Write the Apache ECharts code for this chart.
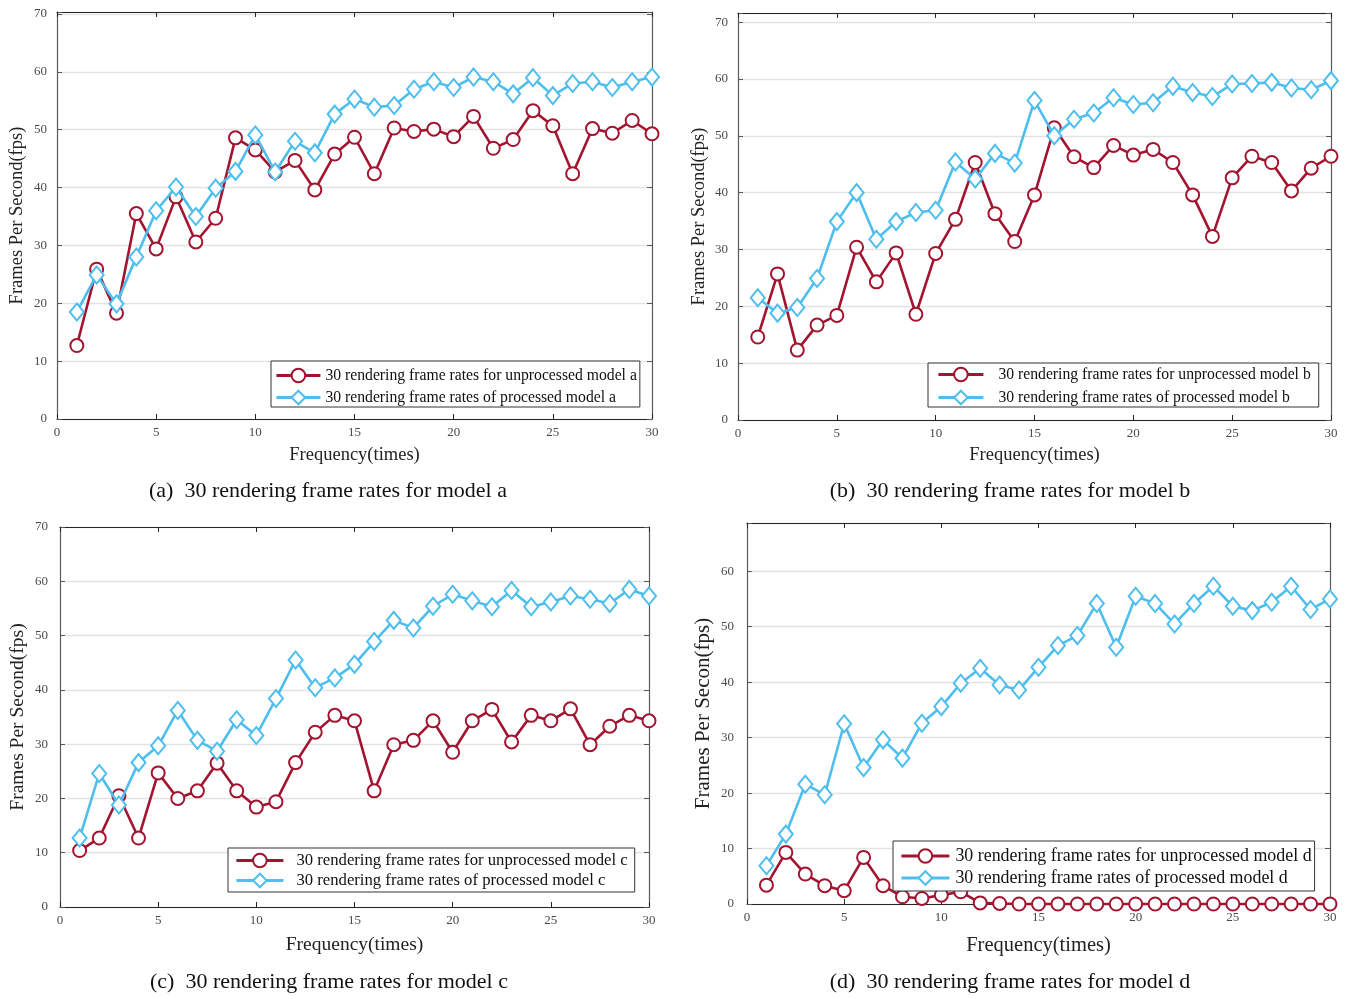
<!DOCTYPE html>
<html>
<head>
<meta charset="utf-8">
<script src="https://cdn.jsdelivr.net/npm/echarts@6/dist/echarts.min.js"></script>
<style>
html,body{margin:0;padding:0;background:#fff;}
#chart{width:1346px;height:999px;}
</style>
</head>
<body>
<div id="chart"></div>
<script>
// ---------- data ----------
const frequency = [1,2,3,4,5,6,7,8,9,10,11,12,13,14,15,16,17,18,19,20,21,22,23,24,25,26,27,28,29,30];
const xTicks = [0,5,10,15,20,25,30];
const yTicks = [0,10,20,30,40,50,60,70];

const unprocessedA = [12.7,25.9,18.3,35.5,29.4,38.4,30.6,34.7,48.6,46.5,42.7,44.7,39.6,45.8,48.7,42.4,50.3,49.7,50.1,48.8,52.3,46.8,48.3,53.3,50.7,42.4,50.2,49.4,51.6,49.3];
const processedA   = [18.5,24.9,19.9,28.0,36.0,40.1,35.0,39.9,42.8,49.1,42.7,48.0,46.0,52.7,55.3,53.9,54.2,57.0,58.3,57.3,59.1,58.3,56.2,59.0,55.9,58.0,58.3,57.3,58.3,59.1];

const unprocessedB = [14.6,25.7,12.3,16.7,18.4,30.4,24.3,29.4,18.6,29.3,35.3,45.3,36.3,31.4,39.6,51.4,46.3,44.4,48.3,46.6,47.6,45.3,39.6,32.3,42.6,46.4,45.3,40.3,44.3,46.4];
const processedB   = [21.5,18.8,19.8,24.9,34.9,40.0,31.8,34.9,36.5,36.9,45.4,42.4,46.9,45.2,56.2,50.0,52.9,54.0,56.7,55.5,55.8,58.7,57.6,56.9,59.1,59.2,59.4,58.4,58.1,59.7];

const unprocessedC = [10.4,12.7,20.5,12.7,24.7,20.0,21.4,26.5,21.4,18.4,19.4,26.6,32.2,35.3,34.3,21.4,29.9,30.7,34.3,28.5,34.3,36.4,30.4,35.3,34.3,36.5,29.9,33.3,35.3,34.3];
const processedC   = [12.7,24.6,18.8,26.6,29.7,36.2,30.7,28.7,34.5,31.6,38.4,45.5,40.4,42.2,44.7,48.9,52.8,51.4,55.4,57.6,56.4,55.3,58.3,55.3,56.2,57.3,56.7,55.9,58.5,57.3];

const unprocessedD = [3.4,9.3,5.4,3.3,2.4,8.4,3.3,1.3,1.0,1.6,2.2,0.2,0.1,0,0,0,0,0,0,0,0,0,0,0,0,0,0,0,0,0];
const processedD   = [6.9,12.6,21.6,19.7,32.5,24.6,29.6,26.3,32.6,35.6,39.8,42.5,39.5,38.6,42.7,46.6,48.4,54.2,46.3,55.5,54.2,50.5,54.2,57.3,53.7,52.9,54.4,57.3,53.1,55.0];

const redNames  = ['30 rendering frame rates for unprocessed model a','30 rendering frame rates for unprocessed model b','30 rendering frame rates for unprocessed model c','30 rendering frame rates for unprocessed model d'];
const blueNames = ['30 rendering frame rates of processed model a','30 rendering frame rates of processed model b','30 rendering frame rates of processed model c','30 rendering frame rates of processed model d'];
const yNames = ['Frames Per Second(fps)','Frames Per Second(fps)','Frames Per Second(fps)','Frames Per Secon(fps)'];
const xName = 'Frequency(times)';
const captions = ['(a)  30 rendering frame rates for model a','(b)  30 rendering frame rates for model b','(c)  30 rendering frame rates for model c','(d)  30 rendering frame rates for model d'];

// ---------- layout / style ----------
const FONT = '"Liberation Serif", "Times New Roman", serif';
const RED = '#A2142F', BLUE = '#4DBEEE';
const panels = [
  {red: unprocessedA, blue: processedA, grid:{left:57, top:12, width:595, height:407}, ymax:70.35,
   xGap:27, yGap:30, nameSize:18.5, yLabMargin:10,
   legend:{left:271, top:361, itemWidth:44, itemGap:6, pad:[6,3,1,4], font:15.7, textPad:0},
   cap:{x:328, y:491}},
  {red: unprocessedB, blue: processedB, grid:{left:738, top:13, width:593, height:407}, ymax:71.6,
   xGap:26, yGap:29, nameSize:18.5, yLabMargin:10,
   legend:{left:928, top:363, itemWidth:45, itemGap:7, pad:[3,8,1,9], font:15.7, textPad:10},
   cap:{x:1010, y:491}},
  {red: unprocessedC, blue: processedC, grid:{left:60, top:527, width:589, height:380}, ymax:70,
   xGap:28, yGap:32, nameSize:19.5, yLabMargin:12,
   legend:{left:228, top:848, itemWidth:47, itemGap:4, pad:[4,7,3,7], font:16.7, textPad:8},
   cap:{x:329, y:982}},
  {red: unprocessedD, blue: processedD, grid:{left:747, top:523, width:583, height:381}, ymax:68.7,
   xGap:31, yGap:33, nameSize:20.5, yLabMargin:13,
   legend:{left:893, top:841, itemWidth:48, itemGap:5, pad:[6,3,4,7], font:17.9, textPad:1},
   cap:{x:1010, y:982}}
];

const grids = [], xAxes = [], yAxes = [], series = [], legends = [], graphics = [];
const AX = '#262626', AXY = '#5a5a5a';

panels.forEach((p, i) => {
  grids.push(Object.assign({containLabel:false}, p.grid));
  const xCommon = {gridIndex:i, type:'value', min:xTicks[0], max:xTicks[xTicks.length-1], interval:xTicks[1]-xTicks[0]};
  xAxes.push(Object.assign({}, xCommon, {
    position:'bottom',
    axisLine:{show:true, onZero:false, lineStyle:{color:AX, width:1.2}},
    axisTick:{show:true, inside:true, length:5, lineStyle:{color:AX}},
    axisLabel:{show:true, fontSize:13, color:'#4a4a4a', margin:7, fontFamily:FONT},
    splitLine:{show:false},
    name:xName, nameLocation:'middle', nameGap:p.xGap,
    nameTextStyle:{fontSize:p.nameSize, color:'#222', fontFamily:FONT}
  }));
  xAxes.push(Object.assign({}, xCommon, {
    position:'top',
    axisLine:{show:true, onZero:false, lineStyle:{color:AX, width:1.2}},
    axisTick:{show:true, inside:true, length:5, lineStyle:{color:AX}},
    axisLabel:{show:false}, splitLine:{show:false}
  }));
  const yCommon = {gridIndex:i, type:'value', min:yTicks[0], max:p.ymax, interval:yTicks[1]-yTicks[0]};
  yAxes.push(Object.assign({}, yCommon, {
    position:'left',
    axisLine:{show:true, onZero:false, lineStyle:{color:AXY, width:1.2}},
    axisTick:{show:true, inside:true, length:5, lineStyle:{color:AXY}},
    axisLabel:{show:true, fontSize:13, color:'#4a4a4a', margin:p.yLabMargin, fontFamily:FONT,
      formatter: v => (yTicks.indexOf(Math.round(v*1000)/1000) >= 0 ? String(v) : '')},
    splitLine:{show:true, lineStyle:{color:'#e3e3e3', width:1.3}},
    name:yNames[i], nameLocation:'middle', nameGap:p.yGap, nameRotate:90,
    nameTextStyle:{fontSize:p.nameSize + (i===3?0.5:0), color:'#222', fontFamily:FONT}
  }));
  yAxes.push(Object.assign({}, yCommon, {
    position:'right',
    axisLine:{show:true, onZero:false, lineStyle:{color:AXY, width:1.2}},
    axisTick:{show:true, inside:true, length:5, lineStyle:{color:AXY}},
    axisLabel:{show:false}, splitLine:{show:false}
  }));
  series.push({
    name:redNames[i], type:'line', xAxisIndex:2*i, yAxisIndex:2*i,
    data: frequency.map((f,k) => [f, p.red[k]]),
    symbol:'emptyCircle', symbolSize:13, clip:false,
    lineStyle:{color:RED, width:2.6}, itemStyle:{color:RED, borderColor:RED, borderWidth:2.6},
    emphasis:{disabled:true}, z:2
  });
  series.push({
    name:blueNames[i], type:'line', xAxisIndex:2*i, yAxisIndex:2*i,
    data: frequency.map((f,k) => [f, p.blue[k]]),
    symbol:'emptyDiamond', symbolSize:[14,17], clip:false,
    lineStyle:{color:BLUE, width:2.6}, itemStyle:{color:BLUE, borderColor:BLUE, borderWidth:2.6},
    emphasis:{disabled:true}, z:3
  });
  const L = p.legend;
  legends.push({
    left:L.left, top:L.top, orient:'vertical', data:[redNames[i], blueNames[i]],
    itemWidth:L.itemWidth, itemHeight:17, itemGap:L.itemGap - 1, padding:L.pad,
    borderColor:'#333', borderWidth:1, backgroundColor:'#fff', selectedMode:false,
    lineStyle:{width:2.8},
    itemStyle:{borderWidth:2.6},
    textStyle:{fontSize:L.font, fontFamily:FONT, color:'#111', lineHeight:17, padding:[0,0,0,L.textPad]},
    z:10
  });
  graphics.push({
    type:'text', x:p.cap.x, y:p.cap.y,
    style:{text:captions[i], fontSize:22, fontFamily:FONT, fill:'#111', align:'center', verticalAlign:'middle'}
  });
});

const chart = echarts.init(document.getElementById('chart'), null, {renderer:'canvas'});
chart.setOption({
  animation:false,
  backgroundColor:'#fff',
  grid:grids, xAxis:xAxes, yAxis:yAxes, series:series, legend:legends, graphic:graphics
});
</script>
</body>
</html>
